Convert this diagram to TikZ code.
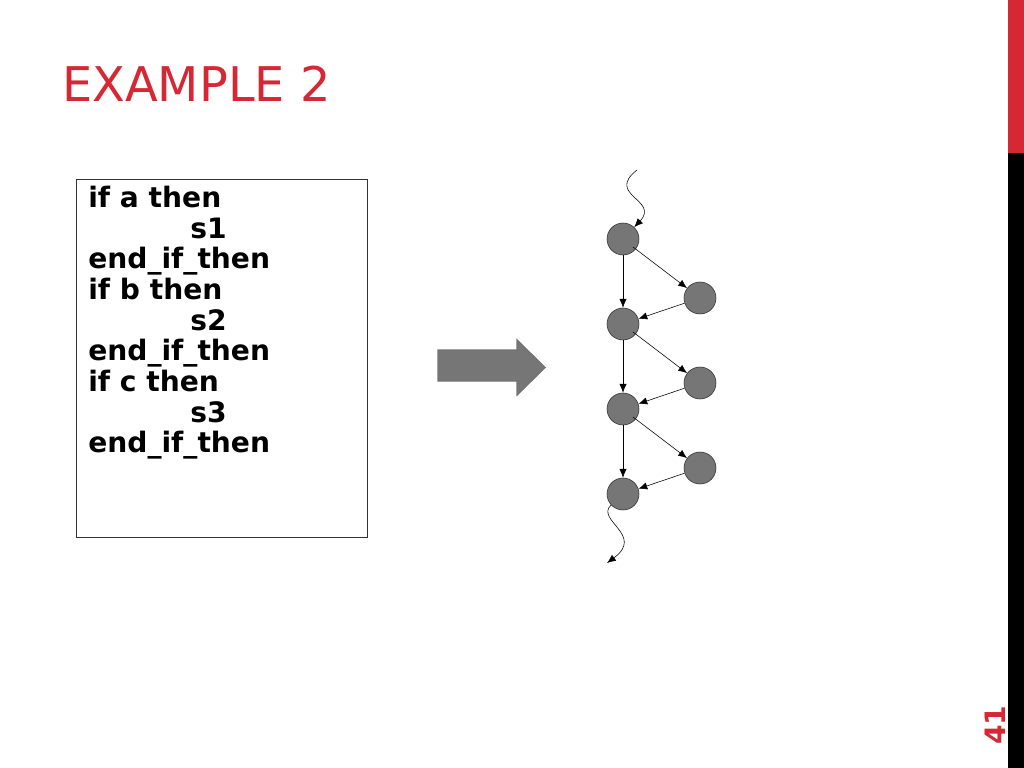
\documentclass[tikz,border=0pt]{standalone}
\usepackage{fontspec}
\setmainfont{DejaVu Sans}
\usetikzlibrary{positioning, shapes}
\usetikzlibrary{arrows.meta}
\definecolor{slidered}{RGB}{214,40,52}
\definecolor{nodegray}{RGB}{118,118,118}

\begin{document}
\begin{tikzpicture}[x=0.025cm,y=-0.025cm]
            \tikzset{vertex/.style = {circle,draw=black!80,fill=nodegray,minimum size=0.8cm,inner sep=0pt}}
            \tikzset{edge/.style = {-{Latex[length=2.2mm,width=1.8mm]},thin}}

            \useasboundingbox (0,0) rectangle (1024,768);

            % side bar and title
            \fill[slidered] (1008,0) rectangle (1024,153);
            \fill[black] (1008,153) rectangle (1024,768);
            \node[text=slidered,font=\bfseries\fontsize{20}{20}\selectfont,rotate=90] (pg) at (995,725) {41};
            \node[text=slidered,anchor=base west,inner sep=0pt,font=\fontsize{34}{34}\selectfont] (title) at (62,102) {EXAMPLE 2};

            % code box
            \draw[black!80] (76,179) rectangle (367,537);
            \node[anchor=north west,inner sep=0pt,align=left,font=\bfseries\fontsize{20}{21.8}\selectfont] (code) at (88,186)
                {if a then\\\hspace*{2.55cm}s1\\end\_if\_then\\if b then\\\hspace*{2.55cm}s2\\end\_if\_then\\if c then\\\hspace*{2.55cm}s3\\end\_if\_then};

            % block arrow
            \draw[fill=nodegray,draw=black!55,line width=1pt] (438,350) -- (517,350) -- (517,340) -- (545,367.5)
                -- (517,395) -- (517,381) -- (438,381) -- cycle;

            % flow graph
            \node[vertex] (l1) at (623,239) {};
            \node[vertex] (l2) at (623,324) {};
            \node[vertex] (l3) at (623,409) {};
            \node[vertex] (l4) at (623,494) {};
            \node[vertex] (r1) at (700,298) {};
            \node[vertex] (r2) at (700,383) {};
            \node[vertex] (r3) at (700,468) {};
            \coordinate (top) at (637,170);
            \coordinate (bot) at (607,563);

            \draw[edge] (top) .. controls (605,195) and (660,200) .. (l1);
            \draw[edge] (l4) .. controls (595,520) and (645,535) .. (bot);
            \foreach \a/\b/\c in {l1/r1/l2, l2/r2/l3, l3/r3/l4} {
                \draw[edge] (\a) -- (\c);
                \draw[edge] (\a.center) ++(10,8) -- (\b);
                \draw[edge] (\b) -- (\c);
            }
        \end{tikzpicture}
\end{document}
